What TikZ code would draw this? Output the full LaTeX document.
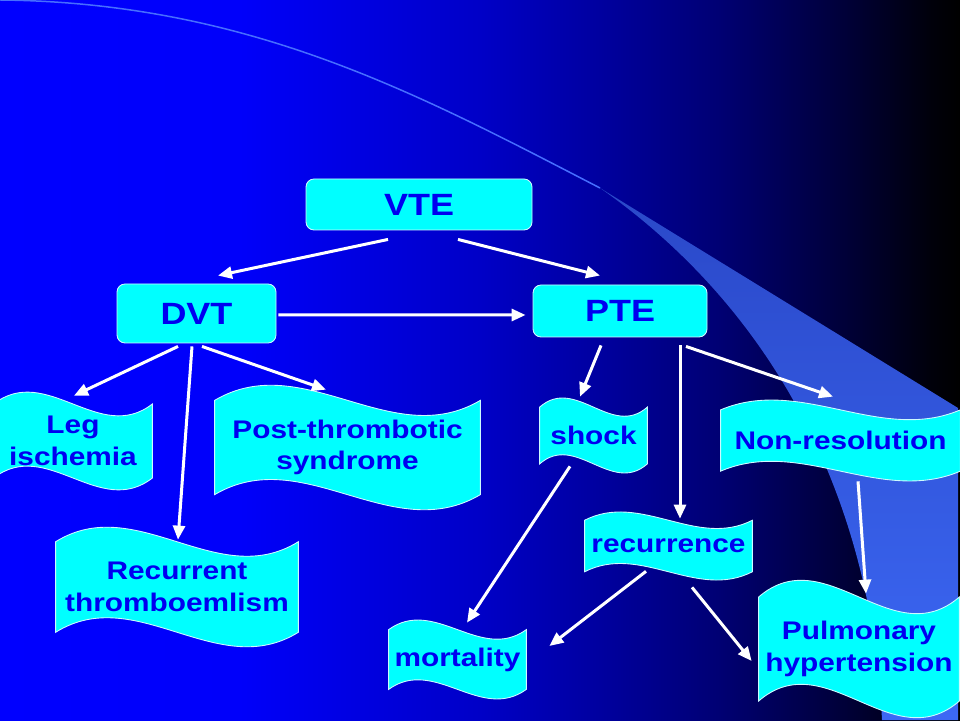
\documentclass[tikz,border=0pt]{standalone}
\usepackage{fontspec}
\setmainfont{Liberation Sans}[FakeStretch=1.17]
\usepackage{xcolor}
\usepackage{tikz}
\usetikzlibrary{calc,arrows.meta}
\pgfdeclarelayer{slide}
\pgfdeclarelayer{shapes}
\pgfsetlayers{slide,shapes,main}
\definecolor{ink}{RGB}{0,0,240}
\definecolor{aqua}{RGB}{0,255,255}
\definecolor{rim}{RGB}{205,250,255}
\definecolor{beam}{RGB}{60,104,245}
\definecolor{beamtop}{RGB}{42,72,200}
\definecolor{beamline}{RGB}{70,110,255}
% fond bleu -> noir de la diapo
\pgfdeclarehorizontalshading{slidebg}{100bp}{rgb(0bp)=(0,0,1); rgb(25bp)=(0,0,1);
  rgb(37.5bp)=(0,0,0.98); rgb(50bp)=(0,0,0.78); rgb(56bp)=(0,0,0.63);
  rgb(62.5bp)=(0,0,0.45); rgb(69bp)=(0,0,0.22); rgb(73.5bp)=(0,0,0.04);
  rgb(75bp)=(0,0,0); rgb(100bp)=(0,0,0)}
% contour "vague" autour d'un noeud (bords haut et bas ondules)
\newcommand\wavepath[1]{%
  let \p1=(#1.south west), \p2=(#1.north east),
      \n1={(\y2-\y1)/8}, \n2={(\y2-\y1)*5/12}, \n3={(\x2-\x1)/3} in
  (\x1,\y2-\n1) .. controls (\x1+\n3,\y2-\n1+\n2) and (\x2-\n3,\y2-\n1-\n2) .. (\x2,\y2-\n1)
  -- (\x2,\y1+\n1) .. controls (\x2-\n3,\y1+\n1-\n2) and (\x1+\n3,\y1+\n1+\n2) .. (\x1,\y1+\n1)
  -- cycle}
\tikzset{
    % les boites arrondies : VTE, DVT, PTE
    main_box/.style={
        fill=aqua,
        draw=rim,
        line width=0.5pt,
        rounded corners=0.16cm,
        text=ink,
        font=\bfseries\fontsize{17.5}{21}\selectfont,
        inner sep=0pt
    },
    % le texte des complications (la vague est dessinee a part)
    wave_text/.style={
        text=ink,
        font=\bfseries\fontsize{14.5}{18}\selectfont,
        align=center,
        inner sep=0pt
    },
    wave_fill/.style={
        fill=aqua,
        draw=rim,
        line width=0.5pt
    },
    % les fleches blanches
    arrow_link/.style={
        draw=white,
        line width=0.06cm,
        -{Triangle[length=0.28cm,width=0.24cm]}
    }
}
\begin{document}
\begin{tikzpicture}
        \useasboundingbox (0,0) rectangle (19.2,14.4);

        % --- 1. Fond de la diapo ---
        \begin{pgfonlayer}{slide}
            \shade[shading=slidebg] (0,0) rectangle (19.2,14.4);
            \draw[beamline, line width=0.03cm] (0,14.4) .. controls (5.0,14.35) and (8.4,12.5) .. (12.0,10.64);
            \shade[top color=beamtop, middle color=beam, bottom color=beam]
                (12.0,10.64) -- (19.16,6.24) -- (19.16,0) -- (17.64,0)
                .. controls (17.4,4.8) and (15.2,8.4) .. (12.0,10.64) -- cycle;
        \end{pgfonlayer}

        % --- 2. Les trois boites ---
        \node[main_box, minimum width=4.52cm, minimum height=1.02cm] (vte) at (8.38,10.31) {VTE};
        \node[main_box, minimum width=3.18cm, minimum height=1.18cm] (dvt) at (3.93,8.13) {DVT};
        \node[main_box, minimum width=3.48cm, minimum height=1.04cm] (pte) at (12.40,8.18) {PTE};

        % --- 3. Les complications ---
        % cote DVT
        \node[wave_text, minimum width=3.16cm, minimum height=1.96cm] (leg)    at (1.46,5.58) {Leg\\ischemia};
        \node[wave_text, minimum width=4.84cm, minimum height=2.40cm] (recthr) at (3.54,2.66) {Recurrent\\thromboemlism};
        \node[wave_text, minimum width=5.30cm, minimum height=2.50cm] (pts)    at (6.95,5.45) {Post-thrombotic\\syndrome};
        % cote PTE
        \node[wave_text, minimum width=2.14cm, minimum height=1.50cm] (shock)  at (11.87,5.69) {shock};
        \node[wave_text, minimum width=4.78cm, minimum height=1.62cm] (nonres) at (16.81,5.59) {Non-resolution};
        \node[wave_text, minimum width=3.34cm, minimum height=1.36cm] (recur)  at (13.37,3.48) {recurrence};
        \node[wave_text, minimum width=2.74cm, minimum height=1.58cm] (mort)   at (9.15,1.21) {mortality};
        \node[wave_text, minimum width=4.00cm, minimum height=2.76cm] (pulm)   at (17.18,1.42) {Pulmonary\\hypertension};

        \begin{pgfonlayer}{shapes}
            \foreach \w in {leg,recthr,pts,shock,nonres,recur,mort,pulm}
                \filldraw[wave_fill] \wavepath{\w};
        \end{pgfonlayer}

        % --- 4. Les fleches ---
        \draw[arrow_link] ([shift={(-0.62,-0.18)}]vte.south) -- ([shift={(0.43,0.16)}]dvt.north);
        \draw[arrow_link] ([shift={(0.78,-0.18)}]vte.south) -- ([shift={(-0.40,0.18)}]pte.north);
        \draw[arrow_link] ([shift={(0.04,-0.03)}]dvt.east) -- ([shift={(-0.14,-0.08)}]pte.west);

        \draw[arrow_link] ([shift={(-0.37,-0.06)}]dvt.south) -- ([shift={(0.02,-0.08)}]leg.north);
        \draw[arrow_link] ([shift={(-0.09,-0.06)}]dvt.south) -- ([shift={(0.02,-0.26)}]recthr.north);
        \draw[arrow_link] ([shift={(0.11,-0.06)}]dvt.south) -- ([shift={(-0.43,-0.10)}]pts.north);

        \draw[arrow_link] ([shift={(-0.38,-0.16)}]pte.south) -- ([shift={(-0.27,0.02)}]shock.north);
        \draw[arrow_link] ([shift={(1.20,-0.16)}]pte.south) -- ([shift={(0.23,-0.14)}]recur.north);
        \draw[arrow_link] ([shift={(1.32,-0.18)}]pte.south) -- ([shift={(-0.15,0.06)}]nonres.north);

        \draw[arrow_link] ([shift={(-0.47,0.14)}]shock.south) -- ([shift={(0.19,-0.06)}]mort.north);
        \draw[arrow_link] ([shift={(-0.45,0.18)}]recur.south) -- ([shift={(0.46,0.27)}]mort.east);
        \draw[arrow_link] ([shift={(0.47,-0.14)}]recur.south) -- ([shift={(-0.14,-0.24)}]pulm.west);
        \draw[arrow_link] ([shift={(0.35,0.00)}]nonres.south) -- ([shift={(0.14,-0.28)}]pulm.north);
\end{tikzpicture}
\end{document}
